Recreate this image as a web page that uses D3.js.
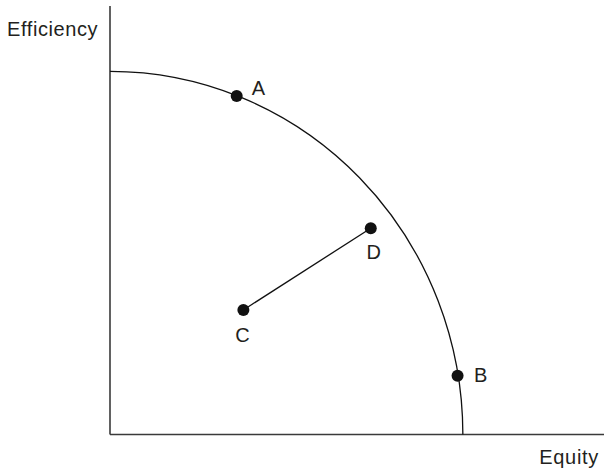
<!DOCTYPE html>
<html>
<head>
<meta charset="utf-8">
<script src="https://cdn.jsdelivr.net/npm/d3@7"></script>
<style>
  body { margin: 0; background: #fff; }
  text { font-family: "Liberation Sans", Arial, sans-serif; fill: #231f20; }
</style>
</head>
<body>
<div id="chart"></div>
<script>
// Points on the equity / efficiency plane
const pointNames = ['A', 'B', 'C', 'D'];
const equityValues = [35.9, 98.5, 37.8, 73.9];
const efficiencyValues = [93.2, 16.2, 34.3, 56.8];

// Frontier radius (same units as the axes)
const frontierRadius = 100;

// Axis titles
const axisTitles = ['Equity', 'Efficiency'];

const width = 604;
const height = 472;

const x = d3.scaleLinear().domain([0, 140]).range([110, 604]);
const y = d3.scaleLinear().domain([0, 118]).range([434.5, 6]);

const svg = d3.select("#chart").append("svg")
  .attr("width", width)
  .attr("height", height);

const points = pointNames.map((name, i) => ({ name: name, eq: equityValues[i], ef: efficiencyValues[i] }));

// Axes
svg.append("line")
  .attr("x1", x(0)).attr("x2", x(0))
  .attr("y1", y(0)).attr("y2", y(118))
  .attr("stroke", "#3a3a3a").attr("stroke-width", 1.6);
svg.append("line")
  .attr("x1", x(0)).attr("x2", x(140))
  .attr("y1", y(0)).attr("y2", y(0))
  .attr("stroke", "#3a3a3a").attr("stroke-width", 1.6);

// Frontier: quarter ellipse from the efficiency axis to the equity axis
const rx = x(frontierRadius) - x(0);
const ry = y(0) - y(frontierRadius);
svg.append("path")
  .attr("d", `M${x(0)},${y(frontierRadius)} A${rx},${ry} 0 0 1 ${x(frontierRadius)},${y(0)}`)
  .attr("fill", "none")
  .attr("stroke", "#111")
  .attr("stroke-width", 1.3);

// Segment C-D
const c = points[2], d = points[3];
svg.append("line")
  .attr("x1", x(c.eq)).attr("y1", y(c.ef))
  .attr("x2", x(d.eq)).attr("y2", y(d.ef))
  .attr("stroke", "#111")
  .attr("stroke-width", 1.3);

// Dots
svg.append("g")
  .selectAll("circle")
  .data(points)
  .join("circle")
  .attr("cx", p => x(p.eq))
  .attr("cy", p => y(p.ef))
  .attr("r", 6)
  .attr("fill", "#111");

// Point labels
const labelPlace = {
  A: { dx: 15, dy: -1.5, anchor: "start" },
  B: { dx: 16.5, dy: 6.5, anchor: "start" },
  C: { dx: -1, dy: 32.5, anchor: "middle" },
  D: { dx: 3, dy: 30.5, anchor: "middle" }
};
svg.append("g")
  .selectAll("text")
  .data(points)
  .join("text")
  .attr("x", p => x(p.eq) + labelPlace[p.name].dx)
  .attr("y", p => y(p.ef) + labelPlace[p.name].dy)
  .attr("text-anchor", p => labelPlace[p.name].anchor)
  .attr("font-size", "20px")
  .text(p => p.name);

// Axis titles
svg.append("text")
  .attr("x", 599)
  .attr("y", 463.5)
  .attr("text-anchor", "end")
  .attr("font-size", "20px")
  .attr("letter-spacing", "0.7px")
  .text(axisTitles[0]);
svg.append("text")
  .attr("x", 7)
  .attr("y", 35.7)
  .attr("font-size", "20px")
  .attr("letter-spacing", "0.6px")
  .text(axisTitles[1]);
</script>
</body>
</html>
